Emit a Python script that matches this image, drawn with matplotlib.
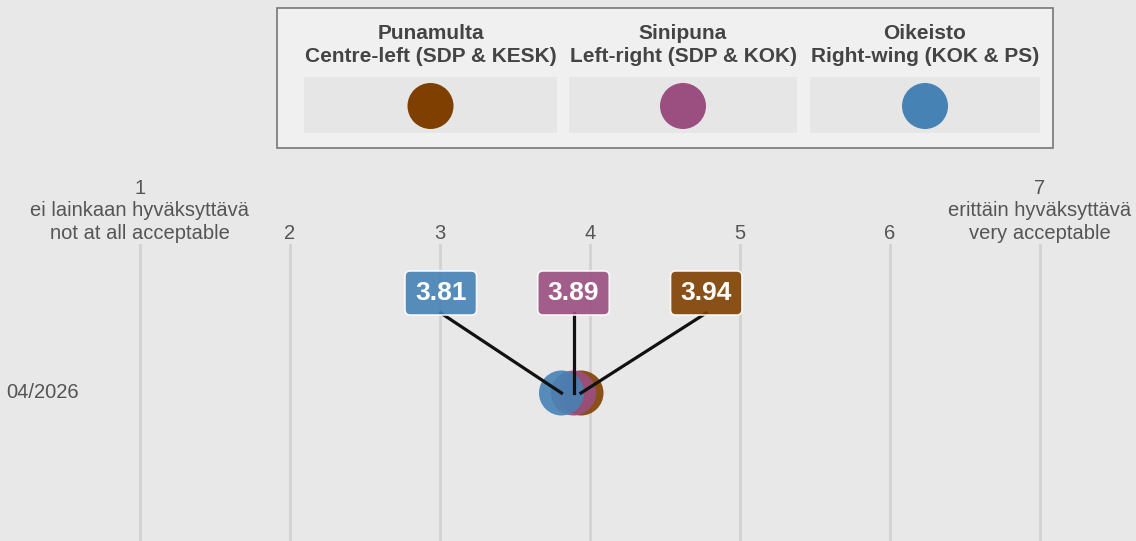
import numpy as np
import matplotlib.pyplot as plt
from matplotlib.patches import Rectangle, Circle

# data
period = "04/2026"
coalitions = ["Punamulta\nCentre-left (SDP & KESK)",
              "Sinipuna\nLeft-right (SDP & KOK)",
              "Oikeisto\nRight-wing (KOK & PS)"]
values = [3.94, 3.89, 3.81]
colors = ["#7f3f00", "#9b4f80", "#4682b4"]
scale_ticks = [1, 2, 3, 4, 5, 6, 7]
scale_labels = ["1\nei lainkaan hyväksyttävä\nnot at all acceptable", "2", "3", "4", "5", "6",
                "7\nerittäin hyväksyttävä\nvery acceptable"]

plt.rcParams['font.family'] = ['Liberation Sans', 'DejaVu Sans']
bg = "#e8e8e8"
W, H = 1136, 541
fig = plt.figure(figsize=(W / 100, H / 100), dpi=100, facecolor=bg)

# main axes: x in scale units (150 px per unit), y in pixels below the row
ax = fig.add_axes([0, 0, 1, 1], facecolor=bg)
ax.set_xlim(1 - 140 / 150, 1 + (W - 140) / 150)
row_y = 393
ax.set_ylim(H - row_y, -row_y)
ax.axis("off")

for t, lab in zip(scale_ticks, scale_labels):
    ax.plot([t, t], [245 - row_y, H - row_y], color="#d2d2d2", lw=2, zorder=1)
    ax.text(t, 243 - row_y, lab, ha="center", va="bottom", fontsize=14.5,
            color="#555555", linespacing=1.24)

ax.text(1 - 134 / 150, 0, period, ha="left", va="center",
        fontsize=14.5, color="#555555")

# dots
for v, c in zip(values, colors):
    ax.scatter([v], [0], s=1050, color=c, alpha=0.9, edgecolors="none", zorder=3)

# value labels, spread out above the dots
order = np.argsort(values)
mid = np.median(values)
for rank, i in enumerate(order):
    lx = mid + (rank - 1) * 0.885
    ly = -100
    ax.plot([lx, values[i]], [ly + 20, 0], color="#111111", lw=2.3, zorder=4)
    ax.text(lx, ly, f"{values[i]:.2f}", ha="center", va="center", fontsize=19,
            fontweight="bold", color="white", zorder=5,
            bbox=dict(boxstyle="round,pad=0.38,rounding_size=0.2", fc=colors[i],
                      ec="white", lw=1.2, alpha=0.9))

# legend panel drawn in pixel coordinates
lg = fig.add_axes([0, 0, 1, 1], facecolor="none")
lg.set_xlim(0, W)
lg.set_ylim(H, 0)
lg.axis("off")
lg.add_patch(Rectangle((276.5, 7.5), 776, 140, fc="#f0f0f0", ec="#777777", lw=1.2))
cols = [(304, 557), (569, 797), (810, 1040)]
for (x0, x1), name, c in zip(cols, coalitions, colors):
    cx = (x0 + x1) / 2
    lg.add_patch(Rectangle((x0, 77), x1 - x0, 56, fc="#e6e6e6", ec="none"))
    lg.add_patch(Circle((cx, 106), 23, fc=c, ec="none"))
    lg.text(cx, 45, name, ha="center", va="center", fontsize=15, fontweight="bold",
            color="#444444", linespacing=1.25)

fig.savefig("out.png", dpi=100, facecolor=bg)
